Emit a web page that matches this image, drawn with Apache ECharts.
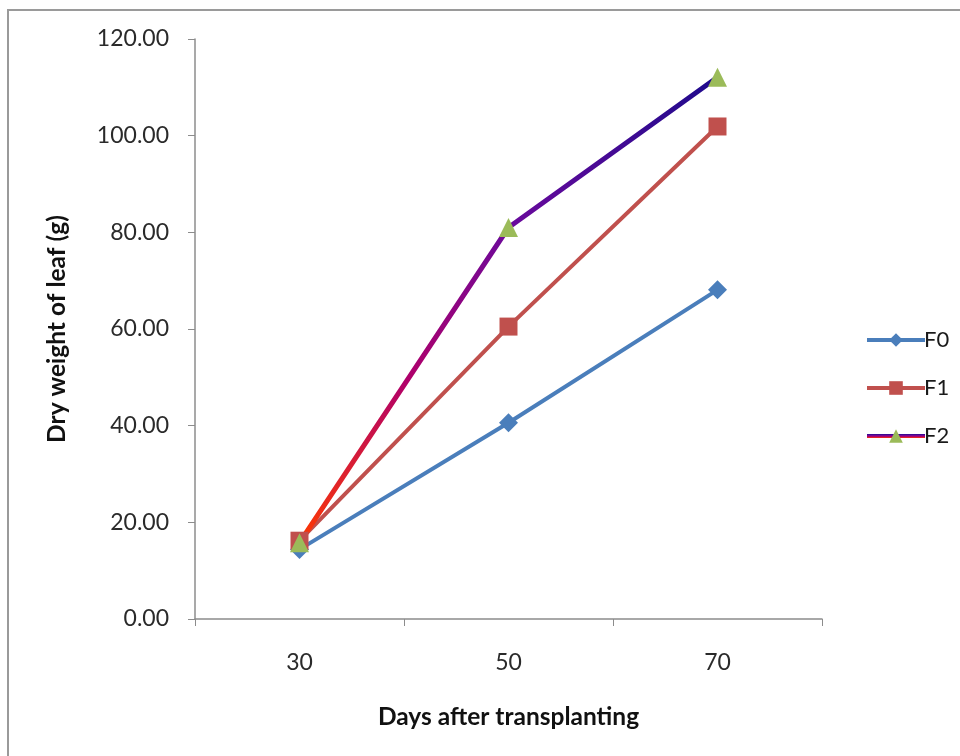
<!DOCTYPE html>
<html>
<head>
<meta charset="utf-8">
<script src="https://cdn.jsdelivr.net/npm/echarts@6/dist/echarts.min.js"></script>
<style>
  html, body { margin: 0; padding: 0; background: #fff; }
  #chart { width: 960px; height: 756px; }
</style>
</head>
<body>
<div id="chart"></div>
<script>
// Dry weight of leaf at three sampling dates, per fertiliser treatment
const days = ['30', '50', '70'];
const f0 = [14.4, 40.6, 68.1];
const f1 = [16.2, 60.5, 101.9];
const f2 = [15.8, 81.0, 112.1];
const yTicks = { min: 0, max: 120, step: 20 };

const FONT = 'Lato, "Open Sans", sans-serif';
const chart = echarts.init(document.getElementById('chart'));

// F2 line fades from red-orange near the origin through purple into indigo
const f2Stroke = new echarts.graphic.LinearGradient(0, 1, 0, 0, [
  { offset: 0, color: '#ff3a00' },
  { offset: 0.35, color: '#b0006a' },
  { offset: 0.68, color: '#6a0a9c' },
  { offset: 1, color: '#1c0a8c' }
]);

chart.setOption({
  animation: false,
  backgroundColor: '#fff',
  textStyle: { fontFamily: FONT },
  graphic: [{
    type: 'polyline',
    silent: true,
    shape: { points: [[8, 756], [8, 10], [960, 10]] },
    style: { stroke: '#9a9a9a', lineWidth: 2, fill: null }
  }],
  grid: { left: 195, right: 138, top: 39, bottom: 137 },
  legend: {
    orient: 'vertical',
    left: 860,
    top: 324,
    itemWidth: 58,
    itemHeight: 17,
    itemGap: 26,
    lineStyle: { width: 4 },
    textStyle: { fontSize: 22, color: '#1a1a1a', padding: [0, 0, 0, -6] },
    data: ['F0', 'F1', 'F2']
  },
  xAxis: {
    type: 'category',
    data: days,
    boundaryGap: true,
    name: 'Days after transplanting',
    nameLocation: 'middle',
    nameGap: 86,
    nameTextStyle: { fontSize: 24.5, fontWeight: 'bold', color: '#111' },
    axisLine: { lineStyle: { color: '#8c8c8c', width: 1.5 } },
    axisTick: { show: true, alignWithLabel: false, length: 7, lineStyle: { color: '#8c8c8c' } },
    axisLabel: { fontSize: 23, color: '#2a2a2a', margin: 32 },
    splitLine: { show: false }
  },
  yAxis: {
    type: 'value',
    min: yTicks.min,
    max: yTicks.max,
    interval: yTicks.step,
    name: 'Dry weight of leaf (g)',
    nameLocation: 'middle',
    nameGap: 125,
    nameRotate: 90,
    nameTextStyle: { fontSize: 24.5, fontWeight: 'bold', color: '#111' },
    axisLine: { show: true, lineStyle: { color: '#8c8c8c', width: 1.5 } },
    axisTick: { show: true, length: 7, lineStyle: { color: '#8c8c8c' } },
    axisLabel: { fontSize: 23, color: '#2a2a2a', margin: 26, formatter: v => v.toFixed(2) },
    splitLine: { show: false }
  },
  series: [
    {
      name: 'F0', type: 'line', data: f0,
      symbol: 'diamond', symbolSize: 19,
      lineStyle: { color: '#4a7ebb', width: 4 },
      itemStyle: { color: '#4a7ebb' }
    },
    {
      name: 'F1', type: 'line', data: f1,
      symbol: 'rect', symbolSize: 18,
      lineStyle: { color: '#c0504d', width: 4 },
      itemStyle: { color: '#c0504d' }
    },
    {
      name: 'F2', type: 'line', data: f2,
      symbol: 'triangle', symbolSize: 19,
      lineStyle: { color: f2Stroke, width: 5 },
      itemStyle: { color: '#9bbb59' }
    }
  ]
});
</script>
</body>
</html>
